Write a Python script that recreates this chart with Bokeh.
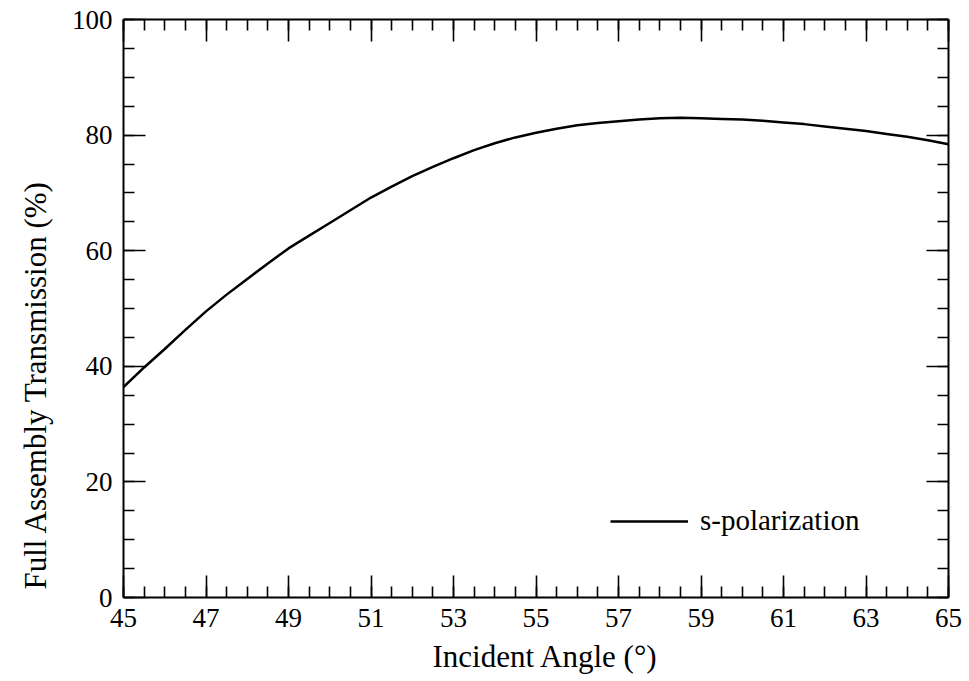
from bokeh.plotting import figure
from bokeh.models import LinearAxis, FixedTicker, Range1d, Legend, LegendItem, Title
from bokeh.embed import file_html
from bokeh.resources import INLINE

# Transmission of the full assembly versus incident angle (s-polarization)
angle = [45.0, 45.5, 46.0, 46.5, 47.0, 47.5, 48.0, 48.5, 49.0, 49.5, 50.0,
         50.5, 51.0, 51.5, 52.0, 52.5, 53.0, 53.5, 54.0, 54.5, 55.0,
         55.5, 56.0, 56.5, 57.0, 57.5, 58.0, 58.5, 59.0, 59.5, 60.0,
         60.5, 61.0, 61.5, 62.0, 62.5, 63.0, 63.5, 64.0, 64.5, 65.0]
transmission = [36.4, 39.8, 43.0, 46.3, 49.5, 52.4, 55.1, 57.8, 60.4, 62.6, 64.8,
                67.0, 69.2, 71.1, 72.9, 74.5, 76.0, 77.4, 78.6, 79.6, 80.4,
                81.1, 81.7, 82.1, 82.4, 82.7, 82.9, 83.0, 82.9, 82.8, 82.7,
                82.5, 82.2, 81.9, 81.5, 81.1, 80.7, 80.2, 79.7, 79.1, 78.4]

x_ticks = [45, 47, 49, 51, 53, 55, 57, 59, 61, 63, 65]
x_minor = [45 + 0.5 * i for i in range(41)]
y_ticks = [0, 20, 40, 60, 80, 100]
y_minor = [5 * i for i in range(21)]

series_name = "s-polarization"
x_title = "Incident Angle (°)"
y_title = "Full Assembly Transmission (%)"

SERIF = "Liberation Serif"

p = figure(width=969, height=681,
           x_range=Range1d(45, 65), y_range=Range1d(0, 100),
           output_backend="svg", toolbar_location=None,
           min_border_left=123, min_border_right=21,
           min_border_top=19, min_border_bottom=83)
p.grid.visible = False
p.outline_line_color = None
p.background_fill_color = "white"
p.border_fill_color = "white"

x_ticker = FixedTicker(ticks=x_ticks, minor_ticks=x_minor)
y_ticker = FixedTicker(ticks=y_ticks, minor_ticks=y_minor)


def style_axis(ax, ticks, show_labels=True):
    ax.axis_line_color = "black"
    ax.axis_line_width = 2
    ax.major_tick_line_color = "black"
    ax.major_tick_line_width = 1.6
    ax.minor_tick_line_color = "black"
    ax.minor_tick_line_width = 1.6
    ax.major_tick_in = 22
    ax.major_tick_out = 0
    ax.minor_tick_in = 11
    ax.minor_tick_out = 0
    ax.major_label_text_font = SERIF
    ax.major_label_text_color = "black"
    if show_labels:
        ax.major_label_text_font_size = "27px"
        ax.major_label_standoff = 11
    else:
        # mirrored frame side: ticks only
        ax.major_label_overrides = {t: "" for t in ticks}
        ax.major_label_text_font_size = "1px"
        ax.major_label_standoff = 0


p.xaxis.ticker = x_ticker
p.yaxis.ticker = y_ticker
style_axis(p.xaxis[0], x_ticks)
style_axis(p.yaxis[0], y_ticks)

top_axis = LinearAxis(ticker=x_ticker)
style_axis(top_axis, x_ticks, show_labels=False)
p.add_layout(top_axis, "above")

right_axis = LinearAxis(ticker=y_ticker)
style_axis(right_axis, y_ticks, show_labels=False)
p.add_layout(right_axis, "right")

curve = p.line(angle, transmission, line_color="black", line_width=2.5)

legend = Legend(items=[LegendItem(label=series_name, renderers=[curve])],
                location=(487, 60), padding=0, margin=0, spacing=0,
                glyph_width=78, glyph_height=30, label_standoff=12,
                label_text_font=SERIF, label_text_font_size="29px",
                label_text_color="black", label_text_baseline="middle",
                border_line_alpha=0, background_fill_alpha=0)
p.add_layout(legend)

# axis titles as side titles so they can be placed along the frame
p.add_layout(Title(text=x_title, align="left", offset=309, standoff=15,
                   text_font=SERIF, text_font_size="31px",
                   text_font_style="normal", text_color="black"), "below")
p.add_layout(Title(text=y_title, align="left", offset=8, standoff=31,
                   text_font=SERIF, text_font_size="31px",
                   text_font_style="normal", text_color="black"), "left")

open("out.html", "w").write(file_html(p, INLINE))
